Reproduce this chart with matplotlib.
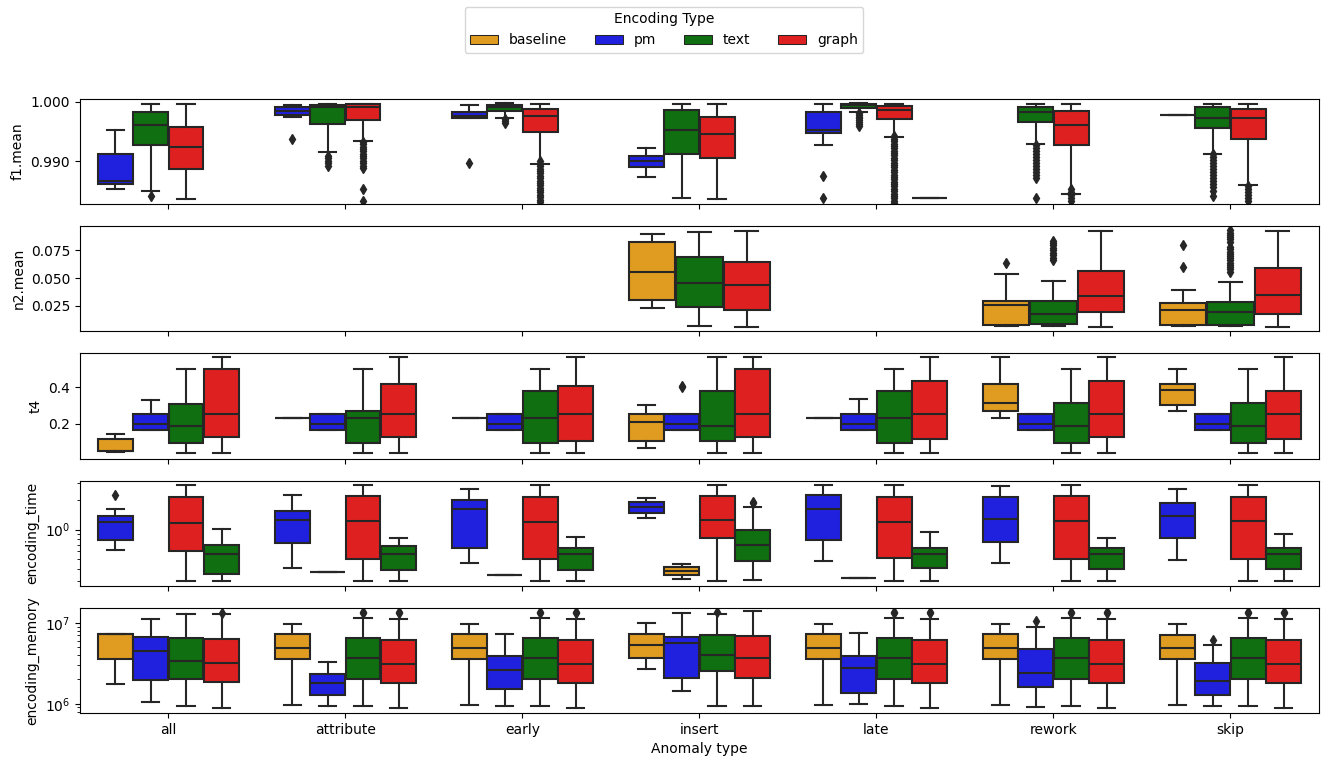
import matplotlib
matplotlib.use("Agg")
import matplotlib.pyplot as plt
from matplotlib.patches import Rectangle
from matplotlib.ticker import FormatStrFormatter

categories = ["all", "attribute", "early", "insert", "late", "rework", "skip"]
hue_colors = {"baseline": "#df9c20", "pm": "#2020df", "text": "#106f10", "graph": "#df2020"}
gray = "#262626"

# each entry: (whislo, q1, median, q3, whishi, [fliers]) or None when missing

# f1.mean
f1_pm = [
    (0.9853, 0.9862, 0.9867, 0.9912, 0.9953, []),
    (0.9975, 0.9977, 0.9985, 0.9991, 0.9995, [0.9937]),
    (0.9972, 0.9972, 0.9976, 0.9983, 0.9994, [0.9898]),
    (0.9874, 0.9891, 0.9901, 0.9909, 0.9922, []),
    (0.9928, 0.9947, 0.9953, 0.9982, 0.9997, [0.9876, 0.9839]),
    None,
    (0.9978, 0.9978, 0.9978, 0.9978, 0.9978, []),
]
f1_text = [
    (0.9851, 0.9928, 0.9961, 0.9982, 0.9997, [0.9842]),
    (0.9916, 0.9962, 0.9991, 0.9995, 0.9997, [0.9909, 0.9905, 0.9901, 0.9897, 0.9893]),
    (0.9972, 0.9984, 0.9991, 0.9995, 0.9998, [0.9971, 0.9968, 0.9965]),
    (0.9838, 0.9912, 0.9953, 0.9986, 0.9997, []),
    (0.9982, 0.9989, 0.9994, 0.9997, 0.9998,
     [0.9981, 0.9978, 0.9975, 0.9972, 0.9969, 0.9966, 0.9963, 0.9960]),
    (0.9929, 0.9966, 0.9983, 0.9992, 0.9997,
     [0.9928, 0.9923, 0.9918, 0.9913, 0.9908, 0.9903, 0.9898, 0.9893, 0.9888,
      0.9883, 0.9878, 0.9873, 0.9838]),
    (0.9913, 0.9956, 0.9973, 0.9991, 0.9997,
     [0.9912, 0.9907, 0.9902, 0.9897, 0.9892, 0.9887, 0.9882, 0.9877, 0.9872,
      0.9867, 0.9862, 0.9857, 0.9850, 0.9842]),
]
f1_graph = [
    (0.9837, 0.9887, 0.9924, 0.9957, 0.9997, []),
    (0.9934, 0.9970, 0.9992, 0.9996, 0.9997,
     [0.9933, 0.9929, 0.9925, 0.9921, 0.9917, 0.9913, 0.9909, 0.9905, 0.9901,
      0.9897, 0.9893, 0.9889, 0.9853, 0.9834]),
    (0.9895, 0.9949, 0.9976, 0.9988, 0.9997,
     [0.9900, 0.9896, 0.9892, 0.9888, 0.9884, 0.9880, 0.9876, 0.9872, 0.9868,
      0.9864, 0.9860, 0.9856, 0.9852, 0.9848, 0.9844, 0.9840, 0.9836, 0.9832]),
    (0.9837, 0.9905, 0.9946, 0.9974, 0.9997, []),
    (0.9941, 0.9971, 0.9987, 0.9993, 0.9997,
     [0.9942, 0.9938, 0.9934, 0.9930, 0.9926, 0.9922, 0.9918, 0.9914, 0.9910,
      0.9906, 0.9902, 0.9898, 0.9894, 0.9890, 0.9886, 0.9882, 0.9878, 0.9874,
      0.9870, 0.9866, 0.9862, 0.9858, 0.9854, 0.9850, 0.9846, 0.9842, 0.9838,
      0.9834, 0.9831]),
    (0.9845, 0.9928, 0.9961, 0.9984, 0.9997, [0.9853, 0.9848, 0.9843, 0.9838, 0.9833]),
    (0.9860, 0.9937, 0.9972, 0.9988, 0.9997, [0.9859, 0.9854, 0.9849, 0.9844, 0.9839, 0.9834]),
]
f1_baseline = [None, None, None, None, (0.9839, 0.9839, 0.9839, 0.9839, 0.9839, []), None, None]

# n2.mean
n2_baseline = [
    None, None, None,
    (0.0229, 0.0301, 0.0560, 0.0827, 0.0896, []),
    None,
    (0.0074, 0.0083, 0.0262, 0.0292, 0.0539, [0.0634]),
    (0.0074, 0.0083, 0.0211, 0.0274, 0.0396, [0.0604, 0.0798]),
]
n2_text = [
    None, None, None,
    (0.0069, 0.0238, 0.0461, 0.0690, 0.0917, []),
    None,
    (0.0069, 0.0092, 0.0179, 0.0292, 0.0479,
     [0.0664, 0.0686, 0.0708, 0.0730, 0.0753, 0.0775, 0.0798, 0.0815, 0.0833]),
    (0.0069, 0.0083, 0.0193, 0.0283, 0.0470,
     [0.0560, 0.0580, 0.0600, 0.0620, 0.0640, 0.0660, 0.0680, 0.0700, 0.0720,
      0.0740, 0.0760, 0.0783, 0.0827, 0.0850, 0.0870, 0.0890, 0.0910, 0.0932]),
]
n2_graph = [
    None, None, None,
    (0.0060, 0.0217, 0.0435, 0.0649, 0.0926, []),
    None,
    (0.0060, 0.0193, 0.0336, 0.0568, 0.0926, []),
    (0.0060, 0.0182, 0.0345, 0.0589, 0.0926, []),
]

# t4
t4_baseline = [
    (0.0436, 0.0473, 0.0510, 0.1127, 0.1418, []),
    (0.2291, 0.2291, 0.2291, 0.2291, 0.2291, []),
    (0.2291, 0.2291, 0.2291, 0.2291, 0.2291, []),
    (0.0636, 0.1018, 0.2073, 0.2545, 0.3036, []),
    (0.2291, 0.2291, 0.2291, 0.2291, 0.2291, []),
    (0.2291, 0.2709, 0.3145, 0.4200, 0.5673, []),
    (0.2709, 0.3036, 0.3855, 0.4200, 0.5018, []),
]
t4_pm = [
    (0.1673, 0.1673, 0.2000, 0.2509, 0.3309, []),
    (0.1673, 0.1673, 0.2000, 0.2509, 0.2509, []),
    (0.1673, 0.1673, 0.2000, 0.2509, 0.2509, []),
    (0.1673, 0.1673, 0.2000, 0.2509, 0.2509, [0.400, 0.405]),
    (0.1673, 0.1673, 0.2000, 0.2509, 0.3327, []),
    (0.1673, 0.1673, 0.2000, 0.2509, 0.2509, []),
    (0.1673, 0.1673, 0.2000, 0.2509, 0.2509, []),
]
t4_text = [
    (0.0382, 0.0909, 0.1855, 0.3091, 0.5018, []),
    (0.0382, 0.0909, 0.2291, 0.2709, 0.5018, []),
    (0.0382, 0.0909, 0.2291, 0.3764, 0.5018, []),
    (0.0382, 0.1018, 0.1855, 0.3764, 0.5673, []),
    (0.0382, 0.0909, 0.2291, 0.3764, 0.5018, []),
    (0.0382, 0.0909, 0.1855, 0.3109, 0.5018, []),
    (0.0382, 0.0909, 0.1855, 0.3109, 0.5018, []),
]
t4_graph = [
    (0.0382, 0.1236, 0.2509, 0.5018, 0.5673, []),
    (0.0382, 0.1236, 0.2509, 0.4200, 0.5673, []),
    (0.0382, 0.1018, 0.2509, 0.4091, 0.5673, []),
    (0.0382, 0.1236, 0.2509, 0.5018, 0.5673, []),
    (0.0382, 0.1127, 0.2509, 0.4364, 0.5673, []),
    (0.0382, 0.1236, 0.2509, 0.4364, 0.5673, []),
    (0.0382, 0.1127, 0.2509, 0.3764, 0.5673, []),
]

# encoding_time
et_pm = [
    (0.622, 0.780, 1.205, 1.376, 1.607, [2.28]),
    (0.403, 0.727, 1.253, 1.546, 2.245, []),
    (0.459, 0.647, 1.620, 1.998, 2.624, []),
    (1.303, 1.487, 1.697, 1.922, 2.127, []),
    (0.481, 0.792, 1.607, 2.245, 2.836, []),
    (0.456, 0.750, 1.273, 2.143, 2.771, []),
    (0.493, 0.817, 1.376, 1.863, 2.624, []),
]
et_baseline = [
    None,
    (0.370, 0.370, 0.370, 0.370, 0.370, []),
    (0.344, 0.344, 0.344, 0.344, 0.344, []),
    (0.314, 0.344, 0.381, 0.418, 0.445, []),
    (0.324, 0.324, 0.324, 0.324, 0.324, []),
    None,
    None,
]
et_graph = [
    (0.302, 0.603, 1.168, 2.143, 2.836, []),
    (0.302, 0.500, 1.224, 2.194, 2.836, []),
    (0.302, 0.500, 1.205, 2.143, 2.836, []),
    (0.302, 0.830, 1.253, 2.194, 2.836, []),
    (0.302, 0.512, 1.196, 2.143, 2.836, []),
    (0.302, 0.500, 1.224, 2.194, 2.836, []),
    (0.302, 0.500, 1.224, 2.143, 2.836, []),
]
et_text = [
    (0.302, 0.352, 0.567, 0.699, 1.008, []),
    (0.302, 0.387, 0.567, 0.683, 0.823, []),
    (0.302, 0.387, 0.567, 0.652, 0.843, []),
    (0.309, 0.478, 0.694, 0.985, 1.697, [1.85, 1.90]),
    (0.302, 0.406, 0.567, 0.647, 0.947, []),
    (0.302, 0.396, 0.567, 0.647, 0.823, []),
    (0.302, 0.396, 0.567, 0.647, 0.904, []),
]

# encoding_memory
em_baseline = [
    (1.76e6, 3.56e6, 7.26e6, 7.26e6, 7.26e6, []),
    (9.73e5, 3.56e6, 4.90e6, 7.26e6, 9.63e6, []),
    (9.73e5, 3.56e6, 4.90e6, 7.26e6, 9.63e6, []),
    (2.71e6, 3.66e6, 5.38e6, 7.26e6, 9.90e6, []),
    (9.73e5, 3.56e6, 4.90e6, 7.26e6, 9.63e6, []),
    (9.73e5, 3.56e6, 4.90e6, 7.26e6, 9.63e6, []),
    (9.73e5, 3.56e6, 4.90e6, 7.07e6, 9.63e6, []),
]
em_pm = [
    (1.06e6, 1.97e6, 4.50e6, 6.61e6, 1.11e7, []),
    (9.27e5, 1.29e6, 1.82e6, 2.33e6, 3.30e6, []),
    (9.27e5, 1.54e6, 2.63e6, 3.87e6, 7.26e6, []),
    (1.42e6, 2.08e6, 5.69e6, 6.74e6, 1.34e7, []),
    (1.00e6, 1.36e6, 2.76e6, 3.87e6, 7.47e6, []),
    (9.00e5, 1.63e6, 2.42e6, 4.76e6, 8.77e6, [1.05e7]),
    (9.27e5, 1.29e6, 1.93e6, 3.18e6, 5.28e6, [6.19e6]),
]
em_text = [
    (9.27e5, 2.04e6, 3.40e6, 6.43e6, 1.28e7, []),
    (9.27e5, 2.04e6, 3.66e6, 6.43e6, 1.16e7, [1.33e7, 1.37e7]),
    (9.27e5, 2.04e6, 3.66e6, 6.43e6, 1.16e7, [1.33e7, 1.37e7]),
    (9.27e5, 2.51e6, 3.98e6, 7.00e6, 1.30e7, [1.37e7]),
    (9.27e5, 2.04e6, 3.66e6, 6.43e6, 1.16e7, [1.33e7, 1.37e7]),
    (9.27e5, 2.04e6, 3.66e6, 6.43e6, 1.16e7, [1.33e7, 1.37e7]),
    (9.27e5, 2.04e6, 3.66e6, 6.43e6, 1.16e7, [1.33e7, 1.37e7]),
]
em_graph = [
    (8.93e5, 1.86e6, 3.18e6, 6.31e6, 1.28e7, [1.34e7]),
    (8.93e5, 1.81e6, 3.09e6, 6.08e6, 1.13e7, [1.33e7, 1.37e7]),
    (8.93e5, 1.81e6, 3.09e6, 6.08e6, 1.13e7, [1.33e7, 1.37e7]),
    (9.27e5, 2.08e6, 3.66e6, 6.81e6, 1.39e7, []),
    (8.93e5, 1.81e6, 3.09e6, 6.08e6, 1.13e7, [1.33e7, 1.37e7]),
    (8.93e5, 1.81e6, 3.09e6, 6.08e6, 1.13e7, [1.33e7, 1.37e7]),
    (8.93e5, 1.81e6, 3.09e6, 6.08e6, 1.13e7, [1.33e7, 1.37e7]),
]


def draw_boxes(ax, series):
    n = len(series)
    width = 0.8 / n
    for j, (name, rows) in enumerate(series):
        offset = -0.4 + width * (j + 0.5)
        stats, pos = [], []
        for i, row in enumerate(rows):
            if row is None:
                continue
            lo, q1, med, q3, hi, fl = row
            stats.append(dict(whislo=lo, q1=q1, med=med, q3=q3, whishi=hi, fliers=fl))
            pos.append(i + offset)
        ax.bxp(stats, positions=pos, widths=width * 0.98, patch_artist=True,
               manage_ticks=False, showfliers=True,
               boxprops=dict(facecolor=hue_colors[name], edgecolor=gray, linewidth=1.5),
               medianprops=dict(color=gray, linewidth=1.5),
               whiskerprops=dict(color=gray, linewidth=1.5),
               capprops=dict(color=gray, linewidth=1.5),
               flierprops=dict(marker='d', markerfacecolor=gray, markeredgecolor=gray,
                               markersize=5, linestyle='none'))


fig, axes = plt.subplots(5, 1, sharex=True, figsize=(13.28, 7.68), dpi=100)
fig.subplots_adjust(left=0.0602, right=0.9932, top=0.871, bottom=0.0716, hspace=0.21)

panels = [
    ("f1.mean", [("pm", f1_pm), ("text", f1_text), ("graph", f1_graph), ("baseline", f1_baseline)]),
    ("n2.mean", [("baseline", n2_baseline), ("text", n2_text), ("graph", n2_graph)]),
    ("t4", [("baseline", t4_baseline), ("pm", t4_pm), ("text", t4_text), ("graph", t4_graph)]),
    ("encoding_time", [("pm", et_pm), ("baseline", et_baseline), ("graph", et_graph), ("text", et_text)]),
    ("encoding_memory", [("baseline", em_baseline), ("pm", em_pm), ("text", em_text), ("graph", em_graph)]),
]

for ax, (label, series) in zip(axes, panels):
    draw_boxes(ax, series)
    ax.set_ylabel(label)

axes[0].set_ylim(0.98283, 1.00045)
axes[0].set_yticks([0.99, 1.0])
axes[0].yaxis.set_major_formatter(FormatStrFormatter('%.3f'))
axes[1].set_ylim(0.0021, 0.0967)
axes[1].set_yticks([0.025, 0.050, 0.075])
axes[2].set_ylim(0.0073, 0.5855)
axes[2].set_yticks([0.2, 0.4])
axes[3].set_yscale('log')
axes[3].set_ylim(0.267, 3.16)
axes[4].set_yscale('log')
axes[4].set_ylim(7.69e5, 1.53e7)

axes[-1].set_xlim(-0.5, len(categories) - 0.5)
axes[-1].set_xticks(range(len(categories)))
axes[-1].set_xticklabels(categories)
axes[-1].set_xlabel("Anomaly type")

handles = [Rectangle((0, 0), 0, 0, facecolor=hue_colors[h], edgecolor=gray, linewidth=0.75, label=h)
           for h in ["baseline", "pm", "text", "graph"]]
fig.legend(handles=handles, title="Encoding Type", loc="upper center",
           bbox_to_anchor=(0.5, 1.0), ncol=4)

fig.savefig("out.png", dpi=100)
